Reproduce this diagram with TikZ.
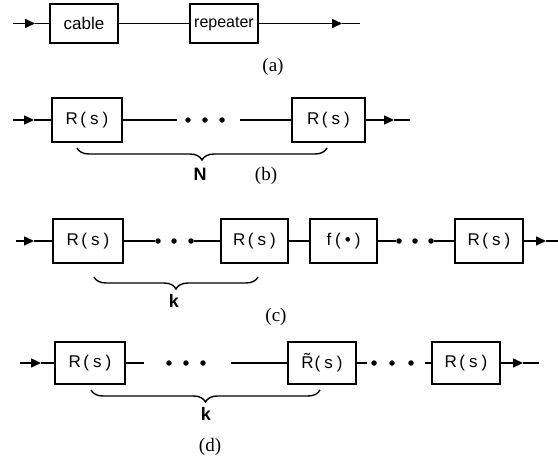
\documentclass[tikz,border=0pt]{standalone}
\usepackage{fontspec}
\setmainfont{Liberation Serif}
\setsansfont{Liberation Sans}
\usetikzlibrary{arrows.meta,decorations.pathreplacing}

\newcommand{\Rs}{R\hspace{2.5pt}(\hspace{4pt}s\hspace{4pt})}
\newcommand{\Rt}{\~{R}\hspace{1pt}(\hspace{4pt}s\hspace{4pt})}
\newcommand{\fb}{f\hspace{4pt}(\hspace{4pt}\textbullet\hspace{4pt})}

\begin{document}
\begin{tikzpicture}[x=1pt,y=-1pt,
  blk/.style={draw,line width=1.6pt,inner sep=0pt,minimum height=44pt,
    font=\sffamily\fontsize{17}{17}\selectfont},
  wire/.style={line width=1.6pt},
  feed/.style={line width=1.6pt,-{Triangle[length=10pt,width=9pt]}},
  dot/.style={circle,fill,inner sep=0pt,minimum size=5.5pt},
  brc/.style={decorate,decoration={brace,mirror,amplitude=12pt},line width=1.4pt},
  sublabel/.style={font=\fontsize{19}{19}\selectfont},
  cnt/.style={font=\sffamily\bfseries\fontsize{18}{18}\selectfont}]
\useasboundingbox (0,0) rectangle (558,458);

% ---- (a) cable followed by a repeater
\node[blk,minimum width=68pt,minimum height=39pt] (cab) at (84,23.5) {cable};
\node[blk,minimum width=68pt,minimum height=39pt,
  font=\sffamily\fontsize{16}{16}\selectfont] (rep) at (224,23.5) {repeater};
\coordinate (ainS) at (13,23.5);
\coordinate (ainT) at (35,23.5);
\coordinate (aoutT) at (342,23.5);
\coordinate (aoutE) at (360,23.5);
\draw[feed] (ainS) -- (ainT);
\draw[wire] (ainT) -- (cab.west);
\draw[wire] (cab.east) -- (rep.west);
\draw[feed] (rep.east) -- (aoutT);
\draw[wire] (aoutT) -- (aoutE);
\node[sublabel] (capa) at (273,67) {(a)};

% ---- (b) N identical repeater sections
\node[blk,minimum width=70pt] (b1) at (87,120) {\Rs};
\node[blk,minimum width=73pt] (b2) at (328.5,120) {\Rs};
\coordinate (binS) at (13,120);
\coordinate (binT) at (34,120);
\coordinate (boutT) at (394,120);
\coordinate (boutE) at (410,120);
\coordinate (bl) at (177,120);
\coordinate (br) at (240,120);
\node[dot] (bd1) at (188,120) {};
\node[dot] (bd2) at (205,120) {};
\node[dot] (bd3) at (222,120) {};
\draw[feed] (binS) -- (binT);
\draw[wire] (binT) -- (b1.west);
\draw[wire] (b1.east) -- (bl);
\draw[wire] (br) -- (b2.west);
\draw[feed] (b2.east) -- (boutT);
\draw[wire] (boutT) -- (boutE);
\coordinate (bbl) at (77,148);
\coordinate (bbr) at (327,148);
\draw[brc] (bbl) -- (bbr);
\node[cnt] (bN) at (200,174) {N};
\node[sublabel] (capb) at (266,176) {(b)};

% ---- (c) nonlinearity after the k-th section
\node[blk,minimum width=70pt] (c1) at (88,241) {\Rs};
\node[blk,minimum width=67pt] (c2) at (254.5,241) {\Rs};
\node[blk,minimum width=67pt] (cf) at (343.5,241) {\fb};
\node[blk,minimum width=68pt] (c3) at (489,241) {\Rs};
\coordinate (cinS) at (16,241);
\coordinate (cinT) at (34,241);
\coordinate (coutT) at (546,241);
\coordinate (coutE) at (558,241);
\node[dot] (cd1) at (158,241) {};
\node[dot] (cd2) at (174,241) {};
\node[dot] (cd3) at (191,241) {};
\node[dot] (ce1) at (399,241) {};
\node[dot] (ce2) at (415,241) {};
\node[dot] (ce3) at (431,241) {};
\draw[feed] (cinS) -- (cinT);
\draw[wire] (cinT) -- (c1.west);
\draw[wire] (c1.east) -- (cd1);
\draw[wire] (cd3) -- (c2.west);
\draw[wire] (c2.east) -- (cf.west);
\draw[wire] (cf.east) -- (ce1);
\draw[wire] (ce3) -- (c3.west);
\draw[feed] (c3.east) -- (coutT);
\draw[wire] (coutT) -- (coutE);
\coordinate (cbl) at (94,277);
\coordinate (cbr) at (258,277);
\draw[brc] (cbl) -- (cbr);
\node[cnt] (ck) at (174,301) {k};
\node[sublabel] (capc) at (276,317) {(c)};

% ---- (d) modified k-th section
\node[blk,minimum width=70pt,minimum height=42pt] (d1) at (90,363) {\Rs};
\node[blk,minimum width=68pt,minimum height=42pt] (d2) at (322,363) {\Rt};
\node[blk,minimum width=68pt,minimum height=42pt] (d3) at (466,363) {\Rs};
\coordinate (dinS) at (20,363);
\coordinate (dinT) at (41,363);
\coordinate (doutT) at (523,363);
\coordinate (doutE) at (539,363);
\coordinate (dl) at (144,363);
\coordinate (dr) at (231,363);
\coordinate (dm) at (367,363);
\coordinate (dn) at (425,363);
\node[dot] (dd1) at (169,363) {};
\node[dot] (dd2) at (186,363) {};
\node[dot] (dd3) at (203,363) {};
\node[dot] (de1) at (374,363) {};
\node[dot] (de2) at (392,363) {};
\node[dot] (de3) at (411,363) {};
\draw[feed] (dinS) -- (dinT);
\draw[wire] (dinT) -- (d1.west);
\draw[wire] (d1.east) -- (dl);
\draw[wire] (dr) -- (d2.west);
\draw[wire] (d2.east) -- (dm);
\draw[wire] (dn) -- (d3.west);
\draw[feed] (d3.east) -- (doutT);
\draw[wire] (doutT) -- (doutE);
\coordinate (dbl) at (91,390);
\coordinate (dbr) at (320,390);
\draw[brc] (dbl) -- (dbr);
\node[cnt] (dk) at (206,414) {k};
\node[sublabel] (capd) at (210,447) {(d)};
\end{tikzpicture}
\end{document}
